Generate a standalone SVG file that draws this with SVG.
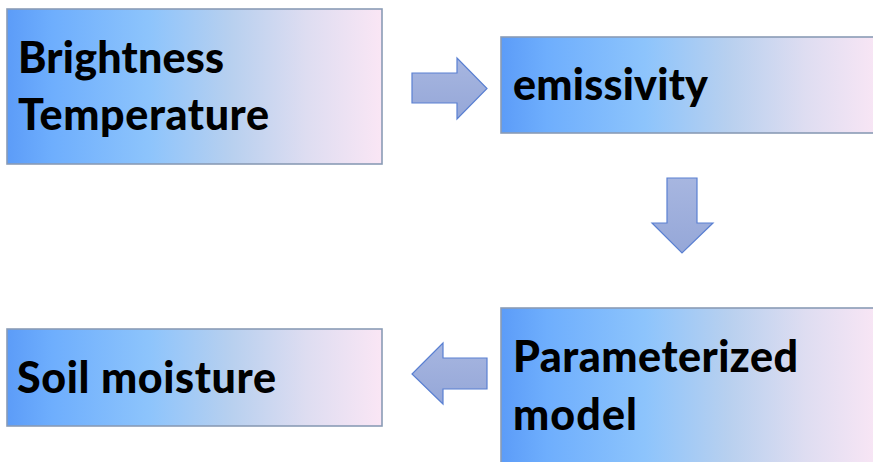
<svg xmlns="http://www.w3.org/2000/svg" width="873" height="462" viewBox="0 0 873 462">
  <defs>
    <linearGradient id="boxFill" x1="0" y1="0" x2="1" y2="0">
      <stop offset="0" stop-color="#5C9CF8"/>
      <stop offset="0.12" stop-color="#6EAEFD"/>
      <stop offset="0.38" stop-color="#8DC4FC"/>
      <stop offset="0.6" stop-color="#B8D0EF"/>
      <stop offset="0.8" stop-color="#DEDDF1"/>
      <stop offset="1" stop-color="#FAE6F5"/>
    </linearGradient>
    <linearGradient id="arrowFill" x1="0" y1="0" x2="0" y2="1">
      <stop offset="0" stop-color="#A7B6E0"/>
      <stop offset="1" stop-color="#95A7D8"/>
    </linearGradient>
  </defs>
  <style>
    .box { fill: url(#boxFill); stroke: #8A9CB6; stroke-width: 1.6; }
    .label { font-family: "Lato", "Open Sans", sans-serif; font-weight: 900; font-size: 43px; fill: #000; }
    .arrow { fill: url(#arrowFill); stroke: #5A80D2; stroke-width: 1.2; stroke-linejoin: miter; }
  </style>

  <g id="brightness-temperature">
    <rect class="box" x="7" y="9" width="375" height="155"/>
    <text class="label" x="18" y="73" textLength="206">Brightness</text>
    <text class="label" x="18" y="130" textLength="251">Temperature</text>
  </g>

  <g id="emissivity">
    <rect class="box" x="501" y="37" width="380" height="96"/>
    <text class="label" x="513" y="100" textLength="195">emissivity</text>
  </g>

  <g id="parameterized-model">
    <rect class="box" x="501" y="308" width="380" height="170"/>
    <text class="label" x="513" y="372" textLength="285">Parameterized</text>
    <text class="label" x="513" y="430" textLength="124">model</text>
  </g>

  <g id="soil-moisture">
    <rect class="box" x="7" y="329" width="375" height="97"/>
    <text class="label" x="17" y="393" textLength="259">Soil moisture</text>
  </g>

  <g id="connectors">
    <!-- block arrow: Brightness Temperature to emissivity -->
    <polygon class="arrow" points="412,73 457,73 457,58 487,88.5 457,119 457,103 412,103"/>
    <!-- block arrow: emissivity to Parameterized model -->
    <polygon class="arrow" points="667,178 697,178 697,223 713,223 682,253 652,223 667,223"/>
    <!-- block arrow: Parameterized model to Soil moisture -->
    <polygon class="arrow" points="487,358 443,358 443,343 412,374 443,404 443,389 487,389"/>
  </g>
</svg>
